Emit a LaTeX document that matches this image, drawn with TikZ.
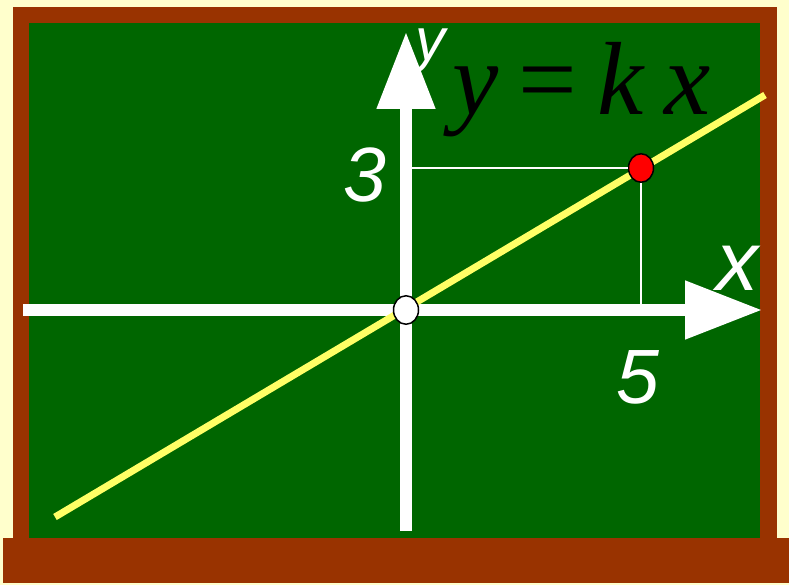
\documentclass[tikz,border=0pt]{standalone}
\usepackage{fontspec}
\setmainfont{Liberation Sans}
\newfontfamily\eqfont{Liberation Serif}
\usetikzlibrary{arrows.meta,shapes.geometric}
\definecolor{Board}{HTML}{006600}
\definecolor{Wood}{HTML}{993300}
\definecolor{Paper}{HTML}{FFFFCC}
\definecolor{Chalk}{HTML}{FFFF66}

\begin{document}
\begin{tikzpicture}[x=1pt,y=-1pt,
    axis/.style={white,line width=11.5pt,-{Triangle[length=77pt,width=56pt]}},
    guide/.style={white,line width=1.2pt},
    lbl/.style={text=white,inner sep=0pt,anchor=base west},
    pt/.style={ellipse,draw=black,line width=1.5pt,minimum width=25pt,minimum height=28.5pt,inner sep=0pt}
  ]
    % board and frame
    \useasboundingbox (0,0) rectangle (789,585);
    \fill[Paper] (0,0) rectangle (789,585);
    \fill[Wood] (13,7) rectangle (777,538);
    \fill[Board] (29,23) rectangle (760,538);
    \fill[Wood] (3,538) rectangle (789,583);
    % axes
    \coordinate (xs) at (23,310); \coordinate (xe) at (762,310);
    \coordinate (ys) at (406,531); \coordinate (ye) at (406,32);
    \draw[axis] (xs)--(xe); \draw[axis] (ys)--(ye);
    % graph
    \coordinate (ls) at (55,517); \coordinate (le) at (765,95);
    \draw[Chalk,line width=7pt] (ls)--(le);
    \coordinate (o) at (406,310);
    \node[pt,fill=red] (p) at (641,168) {};
    \coordinate (p3) at (412,168); \coordinate (p5) at (641,304);
    \draw[guide] (p3)--(p.west); \draw[guide] (p.south)--(p5);
    \node[pt,fill=white] (zero) at (o) {};
    % labels
    \node[lbl,font=\fontsize{77}{77}\selectfont\itshape] (three) at (343,202) {3};
    \node[lbl,font=\fontsize{77}{77}\selectfont\itshape] (five) at (616,403) {5};
    \node[lbl,font=\fontsize{84}{84}\selectfont\itshape] (xl) at (716,290) {x};
    \node[lbl,font=\fontsize{60}{60}\selectfont\itshape] (yl) at (415,61) {y};
    \node[lbl,text=black,font=\eqfont\fontsize{104}{104}\selectfont] (eq) at (452,115)
      {\textit{y}\kern20pt=\kern20pt\textit{k}\kern20pt\textit{x}};
\end{tikzpicture}
\end{document}
